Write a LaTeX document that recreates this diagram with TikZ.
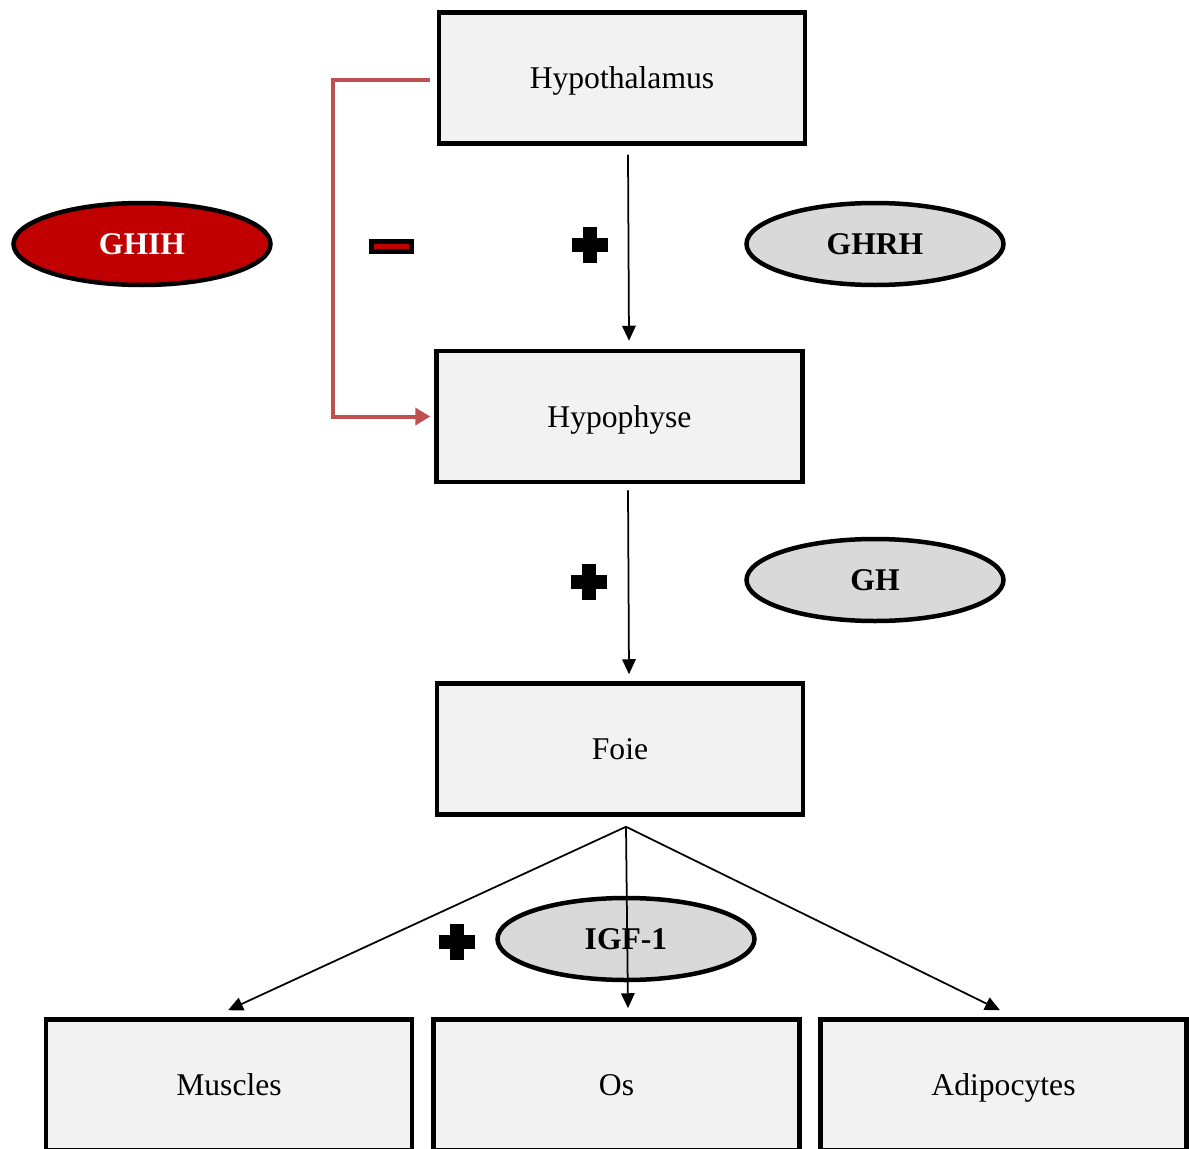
\documentclass[tikz,border=0pt]{standalone}
\usepackage{fontspec}
\setmainfont{Liberation Serif}
\usetikzlibrary{shapes,shapes.geometric,arrows.meta,positioning}
\definecolor{boxgray}{HTML}{F2F2F2}
\definecolor{hormgray}{HTML}{D9D9D9}
\definecolor{ghihred}{HTML}{C00000}
\definecolor{inhibred}{HTML}{C0504D}

\begin{document}
\begin{tikzpicture}[
    organ/.style={rectangle, draw, line width=0.09cm, fill=boxgray, minimum width=7.32cm, minimum height=2.62cm, text height=12.3pt, text depth=0pt, font=\fontsize{18}{21}\selectfont},
    hormone/.style={ellipse, draw, line width=0.09cm, fill=hormgray, minimum width=5.14cm, minimum height=1.64cm, inner sep=0pt, font=\fontsize{18}{21}\selectfont\bfseries},
    link/.style={-{Triangle[length=0.3cm,width=0.27cm]}, line width=0.035cm},
    inhib/.style={-{Triangle[length=0.3cm,width=0.34cm]}, line width=0.08cm, draw=inhibred},
    minusbox/.style={rectangle, draw, line width=0.1cm, fill=ghihred, minimum width=0.8cm, minimum height=0.2cm, inner sep=0pt},
    plussign/.pic={\fill (-0.36,-0.14) rectangle (0.36,0.14); \fill (-0.14,-0.36) rectangle (0.14,0.36);}
]
\clip (0,0) rectangle (23.78,-22.98);

% Axis
\node[organ] (hypothalamus) at (12.44,-1.56) {Hypothalamus};
\node[organ] (hypophyse) at (12.39,-8.33) {Hypophyse};
\node[organ] (foie) at (12.40,-14.98) {Foie};

% Target tissues
\node[organ] (muscles) at (4.58,-21.70) {Muscles};
\node[organ] (os) at (12.33,-21.70) {Os};
\node[organ] (adipo) at (20.07,-21.70) {Adipocytes};

% Hormones
\node[hormone, fill=ghihred, text=white] (ghih) at (2.84,-4.88) {GHIH};
\node[hormone] (ghrh) at (17.50,-4.88) {GHRH};
\node[hormone] (gh) at (17.50,-11.60) {GH};
\node[hormone] (igf) at (12.52,-18.78) {IGF-1};

% Signs
\node[minusbox] (minus) at (7.83,-4.93) {};
\pic at (11.80,-4.90) {plussign};
\pic at (11.78,-11.64) {plussign};
\pic at (9.14,-18.84) {plussign};

% Connectors
\draw[link] ([xshift=0.12cm,yshift=-0.18cm]hypothalamus.south) -- ([xshift=0.19cm,yshift=0.16cm]hypophyse.north);
\draw[link] ([xshift=0.17cm,yshift=-0.12cm]hypophyse.south) -- ([xshift=0.18cm,yshift=0.14cm]foie.north);
\draw[link] ([xshift=0.12cm,yshift=-0.2cm]foie.south) -- ([xshift=-0.02cm,yshift=0.14cm]muscles.north);
\draw[link] ([xshift=0.12cm,yshift=-0.2cm]foie.south) -- ([xshift=0.23cm,yshift=0.18cm]os.north);
\draw[link] ([xshift=0.12cm,yshift=-0.2cm]foie.south) -- ([xshift=-0.07cm,yshift=0.14cm]adipo.north);
\draw[inhib] ([xshift=-0.14cm,yshift=-0.04cm]hypothalamus.west) -- ++(-1.94,0) |- ([xshift=-0.08cm]hypophyse.west);

\end{tikzpicture}
\end{document}
